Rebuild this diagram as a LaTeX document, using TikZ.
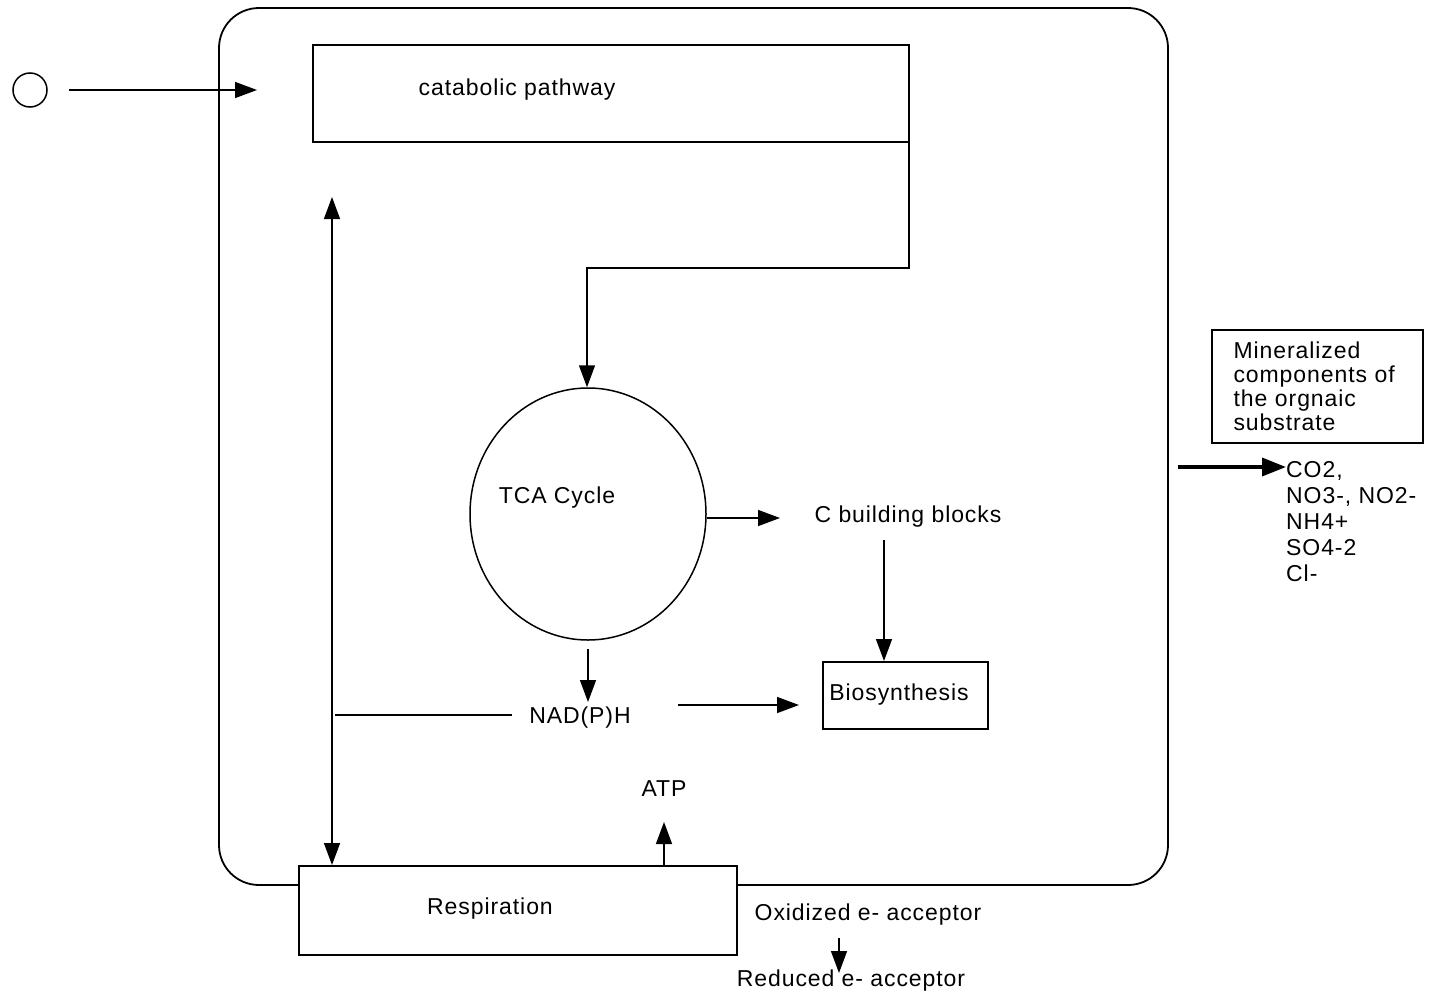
\documentclass[tikz,border=0pt]{standalone}
\usepackage{fontspec}
\setmainfont{Liberation Sans}[LetterSpace=4]
\usetikzlibrary{arrows.meta,shapes.geometric}
\begin{document}
\begin{tikzpicture}[x=1pt,y=-1pt,
  every node/.style={font=\fontsize{23}{27}\selectfont, inner sep=0pt},
  box/.style={draw, line width=2pt, fill=white, rectangle},
  lbl/.style={},
  conn/.style={line width=1.5pt},
  arr/.style={conn, -{Triangle[length=22pt,width=16pt]}},
  dblarr/.style={conn, {Triangle[length=22pt,width=16pt]}-{Triangle[length=22pt,width=16pt]}},
  bigarr/.style={line width=3.5pt, -{Triangle[length=24pt,width=18pt]}}
]
\useasboundingbox (0,0) rectangle (1441,996);

% cell envelope
\node[draw, line width=1.8pt, rounded corners=40pt, minimum width=949pt, minimum height=877pt] (cell) at (693.5,446.5) {};

% substrate entering
\node[draw, circle, line width=1.5pt, minimum size=34pt] (src) at (30,90) {};
\coordinate (catin) at (257,90);
\draw[arr, shorten <=21pt] (src.east) -- (catin);

% catabolic pathway
\node[box, minimum width=596pt, minimum height=97pt] (cat) at (611,93.5) {};
\node[lbl] (cattext) at (517,90) {catabolic pathway};

% TCA cycle
\node[draw, ellipse, line width=1.5pt, minimum width=236pt, minimum height=252pt] (tca) at (588,514) {};
\node[lbl] (tcatext) at (557,498) {TCA Cycle};

\coordinate (catout) at (909,115);
\coordinate (bend1) at (909,268);
\coordinate (bend2) at (587,268);
\draw[arr] (catout) -- (bend1) -- (bend2) -- (bend2 |- tca.north);

% carbon building blocks and biosynthesis
\node[lbl] (cbb) at (908,517) {C building blocks};
\node[box, minimum width=165pt, minimum height=67pt] (bio) at (905.5,695.5) {};
\node[lbl] (biotext) at (899,695) {Biosynthesis};
\draw[arr] (tca.east |- 0,518) coordinate (tcaR) -- (780,518) coordinate (cbbL);
\draw[arr] (884,540) coordinate (cbbS) -- (cbbS |- bio.north);

% reducing equivalents
\node[lbl] (nad) at (580,718) {NAD(P)H};
\draw[arr, shorten <=8pt] (tca.south) -- (tca.south |- 0,702) coordinate (nadN);
\draw[arr] (678,705) coordinate (nadE) -- ([xshift=-23pt]bio.west |- nadE);

% respiration
\node[box, minimum width=438pt, minimum height=89pt] (resp) at (518,910.5) {};
\node[lbl] (resptext) at (490,909) {Respiration};

\coordinate (upend) at (332,197);
\draw[dblarr] (upend) -- (upend |- resp.north);
\coordinate (nadW) at (512,715);
\draw[conn] (nadW) -- (335,715);

% energy
\node[lbl] (atp) at (664,789) {ATP};
\draw[arr] (resp.north -| atp) -- ++(0,-43);

% electron acceptor
\node[lbl] (ox) at (868,915) {Oxidized e- acceptor};
\node[lbl] (red) at (851,981) {Reduced e- acceptor};
\draw[arr] (839,938) coordinate (oxS) -- (839,973);

% mineralized products
\node[draw, line width=2pt, minimum width=211pt, minimum height=113pt, text width=168pt, align=left,
  font=\fontsize{23}{24}\selectfont] (mineral) at (1317.5,386.5)
  {Mineralized\\components of\\the orgnaic\\substrate};
\node[anchor=north west, align=left, font=\fontsize{23}{26}\selectfont] (prod) at (1286,461)
  {CO2,\\NO3-, NO2-\\NH4+\\SO4-2\\Cl-};
\coordinate (cellout) at (1178,467);
\draw[bigarr] (cellout) -- (prod.west |- cellout);
\end{tikzpicture}
\end{document}
